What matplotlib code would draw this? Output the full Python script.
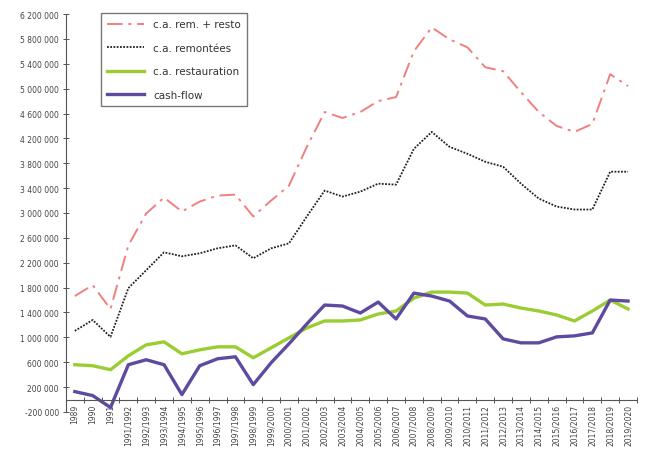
import matplotlib
matplotlib.use("Agg")
import matplotlib.pyplot as plt
import numpy as np
from matplotlib.ticker import FuncFormatter, FixedLocator

seasons = ["1989", "1990", "1991"] + [f"{y}/{y+1}" for y in range(1991, 2020)]

ca_rem_resto = [1664000, 1840000, 1456000, 2480000, 2992000, 3248000, 3024000, 3184000,
                3280000, 3296000, 2944000, 3200000, 3440000, 4064000, 4624000, 4528000,
                4624000, 4800000, 4864000, 5600000, 5984000, 5792000, 5664000, 5344000,
                5280000, 4944000, 4624000, 4400000, 4304000, 4432000, 5232000, 5040000]
ca_remontees = [1104000, 1280000, 1008000, 1792000, 2080000, 2368000, 2304000, 2352000,
                2432000, 2480000, 2272000, 2432000, 2512000, 2944000, 3360000, 3264000,
                3344000, 3472000, 3456000, 4032000, 4304000, 4064000, 3952000, 3824000,
                3744000, 3472000, 3232000, 3104000, 3056000, 3056000, 3664000, 3664000]
ca_restauration = [560000, 544000, 480000, 704000, 880000, 928000, 736000, 800000,
                   848000, 848000, 672000, 832000, 992000, 1152000, 1264000, 1264000,
                   1280000, 1376000, 1424000, 1632000, 1728000, 1728000, 1712000, 1520000,
                   1536000, 1472000, 1424000, 1360000, 1264000, 1424000, 1600000, 1456000]
cash_flow = [128000, 64000, -128000, 560000, 640000, 560000, 80000, 544000,
             656000, 688000, 240000, 592000, 896000, 1216000, 1520000, 1504000,
             1392000, 1568000, 1296000, 1712000, 1664000, 1584000, 1344000, 1296000,
             976000, 912000, 912000, 1008000, 1024000, 1072000, 1600000, 1584000]

labels = ["c.a. rem. + resto", "c.a. remontées", "c.a. restauration", "cash-flow"]
yticks = list(range(-200000, 6200001, 400000))

fig = plt.figure(figsize=(6.46, 4.52), dpi=100)
ax = fig.add_axes([0.102, 0.0863, 0.884, 0.8805])

x = np.arange(len(seasons))
ax.plot(x, ca_rem_resto, color="#f08080", lw=1.4, dashes=(8, 3, 1.5, 3), label=labels[0])
ax.plot(x, ca_remontees, color="#222222", lw=1.3, dashes=(1, 0.8), label=labels[1])
ax.plot(x, ca_restauration, color="#9acd32", lw=2.4, label=labels[2])
ax.plot(x, cash_flow, color="#5e4a9e", lw=2.4, label=labels[3])

ax.set_xlim(-0.5, len(seasons) - 0.5)
ax.set_ylim(-200000, 6200000)

for s in ["top", "right"]:
    ax.spines[s].set_visible(False)
ax.spines["bottom"].set_position(("data", 0))
ax.spines["bottom"].set_color("#555555")
ax.spines["left"].set_color("#555555")
ax.spines["bottom"].set_linewidth(0.8)
ax.spines["left"].set_linewidth(0.8)

ax.set_yticks(yticks)
ax.yaxis.set_major_formatter(FuncFormatter(lambda v, p: f"{int(v):,}".replace(",", " ")))
ax.tick_params(axis="y", direction="inout", length=4, width=0.7, labelsize=5.5,
               labelcolor="#444444", color="#555555", pad=3)

ax.set_xticks(x)
ax.set_xticklabels(seasons, rotation=90, fontsize=5.5, color="#444444", va="top")
ax.tick_params(axis="x", which="major", length=0, pad=3)
ax.xaxis.set_minor_locator(FixedLocator(np.arange(-0.5, len(seasons), 1.0)))
ax.tick_params(axis="x", which="minor", direction="inout", length=4, width=0.7, color="#555555")

leg = ax.legend(loc="upper left", bbox_to_anchor=(0.061, 1.0025), borderaxespad=0,
                fontsize=7.5, handlelength=3.6, labelspacing=1.3, borderpad=0.6,
                fancybox=False, frameon=True, edgecolor="#555555", handletextpad=0.85)
leg.get_frame().set_linewidth(1.0)
for t in leg.get_texts():
    t.set_color("#333333")

fig.savefig("out.png", dpi=100)
